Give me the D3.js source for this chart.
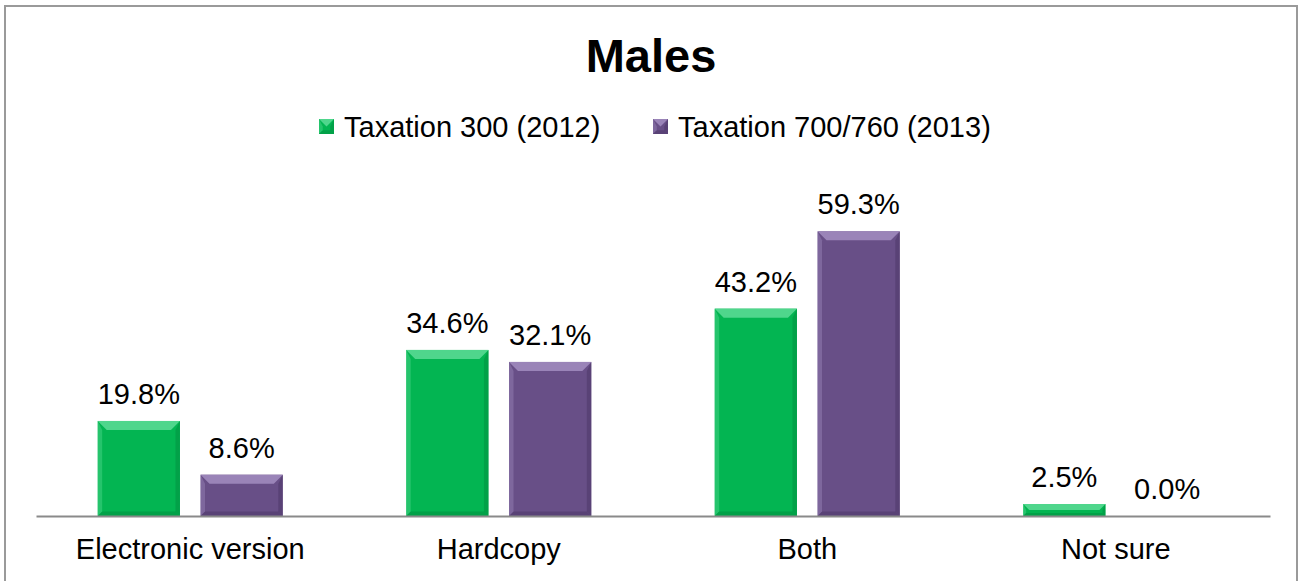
<!DOCTYPE html>
<html lang="en">
<head>
  <meta charset="utf-8">
  <script src="https://d3js.org/d3.v7.min.js"></script>
  <title>Males</title>
  <style>
    body { margin: 0; background: #fff; }
    text { font-family: Arial, "Liberation Sans", sans-serif; }
  </style>
</head>
<body>
<div id="chart"></div>
<script>
  // data
  const categories = ["Electronic version", "Hardcopy", "Both", "Not sure"];
  const seriesNames = ["Taxation 300 (2012)", "Taxation 700/760 (2013)"];
  const values2012 = [19.8, 34.6, 43.2, 2.5];
  const values2013 = [8.6, 32.1, 59.3, 0.0];

  const colors = {
    "Taxation 300 (2012)": { base: "#03b552", light: "#4fd68c", dark: "#029443" },
    "Taxation 700/760 (2013)": { base: "#684f87", light: "#9a84b8", dark: "#503b6b" }
  };

  const W = 1298, H = 581;
  const margin = { top: 180, right: 28, bottom: 65, left: 36 };
  const fontSize = "29px";

  const svg = d3.select("#chart").append("svg")
    .attr("width", W)
    .attr("height", H);

  // chart frame
  svg.append("rect")
    .attr("x", 5).attr("y", 6)
    .attr("width", W - 6).attr("height", H + 10)
    .attr("fill", "none")
    .attr("stroke", "#9a9a9a")
    .attr("stroke-width", 2);

  // title
  svg.append("text")
    .attr("x", 651).attr("y", 72)
    .attr("text-anchor", "middle")
    .style("font-size", "47px")
    .style("font-weight", "bold")
    .text("Males");

  const rows = categories.map((c, i) => ({
    cat: c,
    vals: [
      { s: seriesNames[0], v: values2012[i] },
      { s: seriesNames[1], v: values2013[i] }
    ]
  }));

  const x0 = d3.scaleBand()
    .domain(categories)
    .range([margin.left, W - margin.right]);

  const x1 = d3.scaleBand()
    .domain(seriesNames)
    .range([0, x0.bandwidth()])
    .paddingInner(0.2)
    .paddingOuter(0.6);

  const y = d3.scaleLinear()
    .domain([0, 70])
    .range([H - margin.bottom, margin.top]);

  // bevelled bars
  function bevel(g, x, yTop, w, h, c) {
    const b = Math.min(9, h / 2, w / 2);
    const x2 = x + w, y2 = yTop + h;
    g.append("rect").attr("x", x).attr("y", yTop).attr("width", w).attr("height", h).attr("fill", c.base);
    g.append("polygon")
      .attr("points", [[x, yTop], [x2, yTop], [x2 - b, yTop + b], [x + b, yTop + b]].join(" "))
      .attr("fill", c.light);
    g.append("polygon")
      .attr("points", [[x, yTop], [x + b * 0.5, yTop + b], [x + b * 0.5, y2 - b * 0.5], [x, y2]].join(" "))
      .attr("fill", c.light).attr("opacity", 0.45);
    g.append("polygon")
      .attr("points", [[x2, yTop], [x2 - b * 0.5, yTop + b], [x2 - b * 0.5, y2 - b * 0.5], [x2, y2]].join(" "))
      .attr("fill", c.dark).attr("opacity", 0.6);
    g.append("polygon")
      .attr("points", [[x, y2], [x2, y2], [x2 - b * 0.5, y2 - b * 0.5], [x + b * 0.5, y2 - b * 0.5]].join(" "))
      .attr("fill", c.dark).attr("opacity", 0.6);
  }

  const groups = svg.selectAll("g.cat")
    .data(rows)
    .join("g")
    .attr("class", "cat")
    .attr("transform", d => `translate(${x0(d.cat)},0)`);

  groups.each(function (d) {
    const g = d3.select(this);
    d.vals.forEach(p => {
      const h = y(0) - y(p.v);
      if (h > 0) bevel(g, x1(p.s), y(p.v), x1.bandwidth(), h, colors[p.s]);
      g.append("text")
        .attr("x", x1(p.s) + x1.bandwidth() / 2)
        .attr("y", y(p.v) - 17)
        .attr("text-anchor", "middle")
        .style("font-size", fontSize)
        .text(p.v.toFixed(1) + "%");
    });
  });

  // category axis
  const axis = svg.append("g")
    .attr("transform", `translate(0,${y(0)})`)
    .call(d3.axisBottom(x0).tickSize(0).tickPadding(22));
  axis.select(".domain").attr("stroke", "#8a8a8a").attr("stroke-width", 2);
  axis.selectAll("text")
    .attr("fill", "#000")
    .style("font-size", fontSize)
    .style("font-family", "Arial, 'Liberation Sans', sans-serif");

  // legend
  const legendX = [319, 653];
  const legend = svg.selectAll("g.legend")
    .data(seriesNames)
    .join("g")
    .attr("class", "legend")
    .attr("transform", (d, i) => `translate(${legendX[i]},119)`);
  legend.each(function (d) {
    bevel(d3.select(this), 0, 0, 15, 15, colors[d]);
  });
  legend.append("text")
    .attr("x", 25).attr("y", 18)
    .style("font-size", fontSize)
    .text(d => d);
</script>
</body>
</html>
